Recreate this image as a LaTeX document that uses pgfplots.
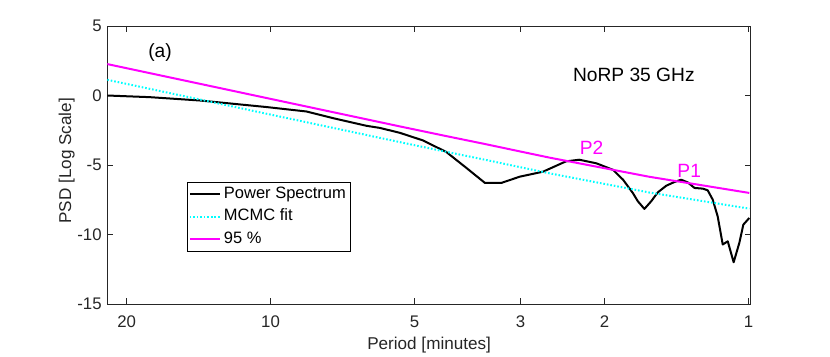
\documentclass[border=0pt]{standalone}
\usepackage{fontspec}
\setmainfont{Liberation Sans}
\usepackage{pgfplots}
\pgfplotsset{compat=1.18}

\definecolor{axgray}{rgb}{0.15,0.15,0.15}
\definecolor{fitcyan}{rgb}{0,1,1}
\definecolor{sigmag}{rgb}{1,0,1}

\begin{document}
\begin{tikzpicture}
% page of 830 x 356 px, 1 px = 0.625 pt
\path[use as bounding box] (0,0) rectangle (518.75pt,222.5pt);
\begin{axis}[
    at={(67.06pt,32.5pt)}, anchor=south west,
    scale only axis,
    width=402.3pt, height=173.75pt,
    xmode=log, x dir=reverse,
    xmin=0.988, xmax=21.96,
    ymin=-15, ymax=5,
    xtick={1,2,3,5,10,20},
    xticklabels={1,2,3,5,10,20},
    ytick={-15,-10,-5,0,5},
    yticklabels={-15,-10,-5,0,5},
    xminorticks=false,
    /pgf/number format/assume math mode=true,
    tick align=inside,
    major tick length=3.5pt,
    axis line style={line width=0.6pt, axgray},
    every tick/.style={line width=0.6pt, axgray},
    ticklabel style={text=axgray, font=\fontsize{10.5}{12.6}\selectfont},
    xticklabel style={yshift=-4pt},
    xlabel={Period [minutes]},
    ylabel={PSD [Log Scale]},
    label style={text=axgray, font=\fontsize{10.7}{13}\selectfont},
    xlabel style={at={(axis description cs:0.5,-0.147)}, anchor=center},
    ylabel style={at={(axis description cs:-0.0631,0.515)}, anchor=center},
    legend cell align=left,
    legend style={at={(axis description cs:0.1234,0.44)}, anchor=north west,
        draw=black, line width=0.6pt, fill=white,
        inner xsep=1pt, inner ysep=0.5pt, row sep=0pt,
        font=\fontsize{10.3}{12.4}\selectfont,
        nodes={inner ysep=2pt, inner xsep=2pt, text height=7.6pt, text depth=2.5pt}},
    legend image code/.code={\draw[#1] (0pt,0pt) -- (18.75pt,0pt);},
]

\addplot[black, line width=1.25pt, line join=round] coordinates {
    (21.96, 0.00) (17.88, -0.12) (14.05, -0.36) (10.20, -0.83)
    (8.41, -1.15) (7.40, -1.63) (6.30, -2.18) (5.91, -2.33)
    (5.37, -2.68) (4.80, -3.23) (4.29, -4.06) (3.89, -5.22)
    (3.56, -6.29) (3.29, -6.29) (3.01, -5.84) (2.69, -5.48)
    (2.41, -4.74) (2.26, -4.62) (2.08, -4.88) (1.92, -5.35)
    (1.83, -6.06) (1.746, -7.01) (1.704, -7.61) (1.651, -8.16)
    (1.598, -7.61) (1.548, -6.97) (1.486, -6.49) (1.428, -6.22)
    (1.383, -6.06) (1.340, -6.25) (1.297, -6.65) (1.246, -6.70)
    (1.217, -6.82) (1.188, -7.49) (1.160, -8.69) (1.132, -10.72)
    (1.105, -10.49) (1.074, -12.00) (1.045, -10.60) (1.025, -9.29)
    (0.996, -8.81)
};
\addlegendentry{Power Spectrum}

\addplot[fitcyan, line width=1.25pt, dash pattern=on 1pt off 1.2pt] coordinates {
    (21.96, 1.13) (14.05, -0.29) (10.20, -1.31) (7.40, -2.33)
    (5.37, -3.35) (4.29, -4.05) (3.56, -4.62) (3.01, -5.15)
    (2.608, -5.60) (2.05, -6.29) (1.611, -6.98) (1.266, -7.56)
    (0.996, -8.14)
};
\addlegendentry{MCMC fit}

\addplot[sigmag, line width=1.25pt] coordinates {
    (21.96, 2.26) (14.05, 0.84) (10.20, -0.18) (7.40, -1.20)
    (5.37, -2.22) (4.29, -2.92) (3.56, -3.49) (3.01, -4.02)
    (2.608, -4.47) (2.05, -5.16) (1.611, -5.85) (1.266, -6.43)
    (0.996, -7.01)
};
\addlegendentry{95 \%}

\node[anchor=center, text=black, font=\fontsize{12}{14}\selectfont] at (axis description cs:0.0819,0.903) {(a)};
\node[anchor=center, text=black, font=\fontsize{12}{14}\selectfont] at (axis description cs:0.818,0.824) {NoRP 35 GHz};
\node[anchor=center, text=sigmag, font=\fontsize{12}{14}\selectfont] at (axis description cs:0.7525,0.562) {P2};
\node[anchor=center, text=sigmag, font=\fontsize{12}{14}\selectfont] at (axis description cs:0.904,0.4795) {P1};
\end{axis}
\end{tikzpicture}
\end{document}
